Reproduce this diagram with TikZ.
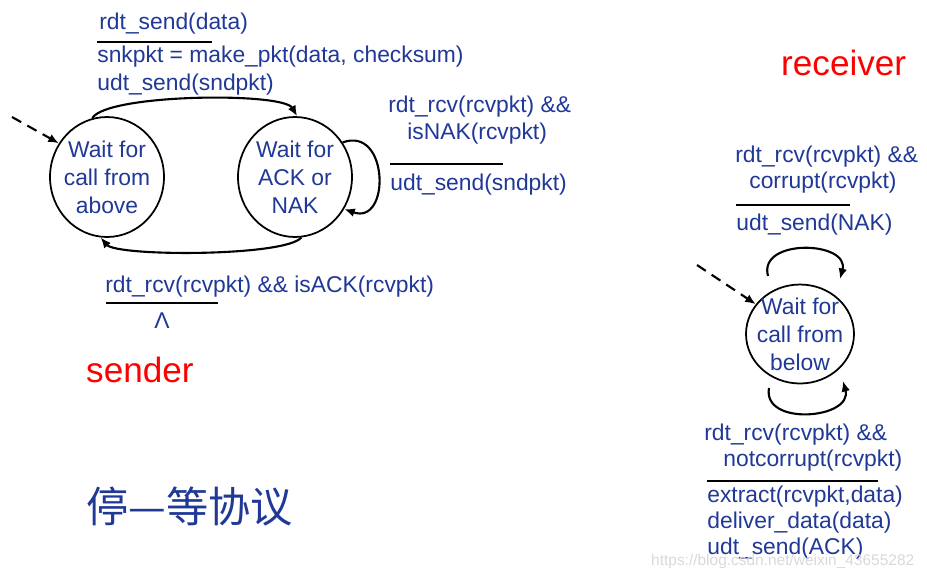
\documentclass[tikz,border=0pt]{standalone}
\usepackage{fontspec}
\setmainfont{Liberation Sans}
\newfontfamily\cjkfont{Noto Sans CJK SC}
\usetikzlibrary{arrows.meta,shapes.geometric}
\definecolor{fsmblue}{RGB}{32,56,150}

\begin{document}
\begin{tikzpicture}[x=0.02cm, y=-0.02cm, font=\fontsize{13}{15.9}\selectfont,
    state/.style={draw, ellipse, line width=1pt, inner xsep=-2pt, inner ysep=0pt, align=center, text=fsmblue},
    lbl/.style={anchor=west, text=fsmblue, inner sep=0pt, text height=1.6ex, text depth=.45ex},
    bar/.style={line width=1.5pt},
    trans/.style={line width=1.2pt, -{Latex[length=6pt,width=5pt]}},
    init/.style={trans, dash pattern=on 6pt off 4pt},
    side/.style={text=red, font=\fontsize{20}{24}\selectfont}]
    \useasboundingbox (0,0) rectangle (927,579);

    % sender
    \node[state, minimum width=2.28cm, minimum height=2.4cm] (waitabove) at (107,177) {Wait for\\call from\\above};
    \node[state, minimum width=2.28cm, minimum height=2.4cm] (waitack) at (295,177) {Wait for\\ACK or\\NAK};
    \coordinate (sinit) at (12,117);
    \draw[init] (sinit) -- (waitabove.145);
    \draw[trans] (waitabove.104) to[out=60, in=120, looseness=0.35] (waitack.88);
    \draw[trans] (waitack.-84) to[out=-130, in=-50, looseness=0.32] (waitabove.-96);
    \draw[trans] (waitack.36) to[out=20, in=-20, looseness=1.9] (waitack.-33);

    \node[lbl] (sa1) at (99,24) {rdt\_send(data)};
    \draw[bar] (97,42) -- (212,42);
    \node[lbl] (sa2) at (97,57) {snkpkt = make\_pkt(data, checksum)};
    \node[lbl] (sa3) at (97,85) {udt\_send(sndpkt)};
    \node[lbl] (sn1) at (388,107) {rdt\_rcv(rcvpkt) \&\&};
    \node[lbl] (sn2) at (407,134) {isNAK(rcvpkt)};
    \draw[bar] (390,164) -- (503,164);
    \node[lbl] (sn3) at (390,185) {udt\_send(sndpkt)};
    \node[lbl] (sk1) at (105,287) {rdt\_rcv(rcvpkt) \&\& isACK(rcvpkt)};
    \draw[bar] (106,303) -- (218,303);
    \node[text=fsmblue] (sk2) at (162,321) {Λ};
    \node[side, anchor=west] (sendtag) at (80,370) {sender};
    \node[anchor=west, text=fsmblue, font=\cjkfont\fontsize{24}{28}\selectfont] (title) at (80,507) {停—等协议};

    % receiver
    \node[side, anchor=west] (recvtag) at (775,63) {receiver};
    \node[state, inner xsep=-3pt, inner ysep=-2.5pt, minimum width=2.16cm, minimum height=1.98cm] (waitbelow) at (800,334) {Wait for\\call from\\below};
    \coordinate (rinit) at (697,265);
    \draw[init] (rinit) -- (waitbelow.146);
    \coordinate (rtopl) at (768,276);
    \coordinate (rtopr) at (840,279);
    \draw[trans] (rtopl) to[out=105, in=75, looseness=1.4] (rtopr);
    \coordinate (rbotl) at (769,388);
    \coordinate (rbotr) at (843,381);
    \draw[trans] (rbotl) to[out=-100, in=-75, looseness=1.35] (rbotr);

    \node[lbl] (rc1) at (735,157) {rdt\_rcv(rcvpkt) \&\&};
    \node[lbl] (rc2) at (749,183) {corrupt(rcvpkt)};
    \draw[bar] (736,205) -- (850,205);
    \node[lbl] (rc3) at (736,225) {udt\_send(NAK)};
    \node[lbl] (rd1) at (704,435) {rdt\_rcv(rcvpkt) \&\&};
    \node[lbl] (rd2) at (723,461) {notcorrupt(rcvpkt)};
    \draw[bar] (707,481) -- (878,481);
    \node[lbl] (rd3) at (707,497) {extract(rcvpkt,data)};
    \node[lbl] (rd4) at (707,523) {deliver\_data(data)};
    \node[lbl] (rd5) at (707,549) {udt\_send(ACK)};
    \node[anchor=west, text=gray!30, font=\fontsize{8.8}{10}\selectfont] (mark) at (645,561) {https://blog.csdn.net/weixin\_43655282};
\end{tikzpicture}
\end{document}
